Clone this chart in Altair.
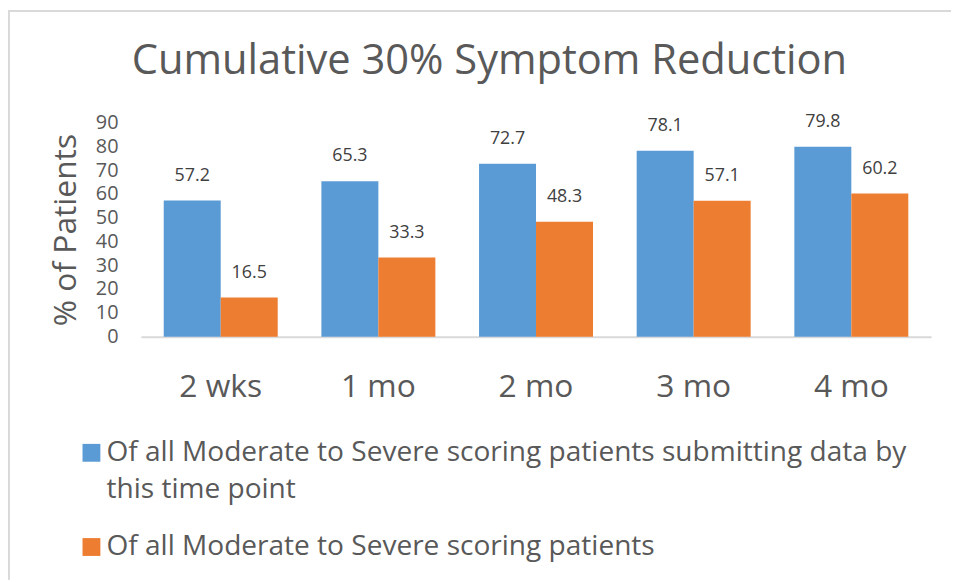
import altair as alt
import pandas as pd

# ---- data ----
timepoints = ["2 wks", "1 mo", "2 mo", "3 mo", "4 mo"]
series_a = "Of all Moderate to Severe scoring patients submitting data by this time point"
series_b = "Of all Moderate to Severe scoring patients"
values_a = [57.2, 65.3, 72.7, 78.1, 79.8]
values_b = [16.5, 33.3, 48.3, 57.1, 60.2]
y_ticks = [0, 10, 20, 30, 40, 50, 60, 70, 80, 90]
title_text = "Cumulative 30% Symptom Reduction"
y_title = "% of Patients"

rows = []
for t, a, b in zip(timepoints, values_a, values_b):
    rows.append({"time": t, "series": series_a, "value": a})
    rows.append({"time": t, "series": series_b, "value": b})
df = pd.DataFrame(rows)

W, H = 797, 216
PAD_L, PAD_T, PAD_R, PAD_B = 134, 113, 20, 245
FONT = "Open Sans"
GREY = "#595959"
BORDER = "#D9D9D9"

# wrapped legend label (as Excel wraps it)
wrap_at = series_a.index(" this time point")
line1, line2 = series_a[:wrap_at], series_a[wrap_at + 1:]
label_expr = f"datum.label == '{series_a}' ? ['{line1}', '{line2}'] : datum.label"

x_enc = alt.X(
    "time:N",
    sort=timepoints,
    scale=alt.Scale(paddingInner=0.277, paddingOuter=0.145),
    axis=alt.Axis(
        title=None, labelAngle=0, ticks=False, domain=True,
        domainColor=BORDER, domainWidth=2,
        labelFont=FONT, labelFontSize=32, labelColor=GREY, labelPadding=35,
        labelLineHeight=34,
    ),
)
xoff_enc = alt.XOffset(
    "series:N", sort=[series_a, series_b],
    scale=alt.Scale(paddingInner=0, paddingOuter=0),
)
y_enc = alt.Y(
    "value:Q",
    scale=alt.Scale(domain=[0, 90], nice=False),
    axis=alt.Axis(
        values=y_ticks, title=y_title, grid=False, ticks=False, domain=False,
        labelFont=FONT, labelFontSize=20, labelColor=GREY, labelPadding=23,
        labelOverlap=False, labelFlush=False, labelLineHeight=20,
        titleFont=FONT, titleFontSize=32, titleColor=GREY, titleFontWeight="normal",
        titleX=-66, titleY=H / 2, titleBaseline="alphabetic", titleAngle=-90,
    ),
)

bars = alt.Chart(df).mark_bar().encode(
    x=x_enc,
    xOffset=xoff_enc,
    y=y_enc,
    color=alt.Color(
        "series:N",
        sort=[series_a, series_b],
        scale=alt.Scale(domain=[series_a, series_b], range=["#5B9BD5", "#ED7D31"]),
        legend=alt.Legend(
            title=None, orient="none", legendX=-64, legendY=319,
            symbolType="square", symbolSize=324, symbolStrokeWidth=0,
            labelFont=FONT, labelFontSize=28.3, labelColor=GREY,
            labelOffset=1, labelLimit=900, rowPadding=28, padding=0,
            labelExpr=label_expr,
        ),
    ),
)

labels = alt.Chart(df).mark_text(
    font=FONT, fontSize=18, color="#404040", baseline="middle", dy=-25
).encode(
    x=x_enc,
    xOffset=xoff_enc,
    y=y_enc,
    text=alt.Text("value:Q", format=".1f"),
)

border_left = alt.Chart(df).mark_rule(color=BORDER, strokeWidth=1.5).encode(
    x=alt.value(-133.5), y=alt.value(-PAD_T), y2=alt.value(H + PAD_B)
)
border_top = alt.Chart(df).mark_rule(color=BORDER, strokeWidth=1.5).encode(
    x=alt.value(-PAD_L), x2=alt.value(W + PAD_R), y=alt.value(-112.5)
)

chart = alt.layer(bars, labels, border_left, border_top).properties(
    width=W,
    height=H,
    title=alt.Title(
        title_text, font=FONT, fontSize=42, color=GREY, fontWeight="normal",
        anchor="middle", frame="bounds", baseline="alphabetic", offset=-107, dx=10,
    ),
    autosize=alt.AutoSizeParams(type="none"),
    padding={"left": PAD_L, "top": PAD_T, "right": PAD_R, "bottom": PAD_B},
).configure(
    background="white",
    view=alt.ViewConfig(stroke="transparent", strokeWidth=0),
    style={"guide-label": {"lineHeight": 38}},
)

chart.save("out.html", embed_options={"renderer": "svg", "actions": False})
